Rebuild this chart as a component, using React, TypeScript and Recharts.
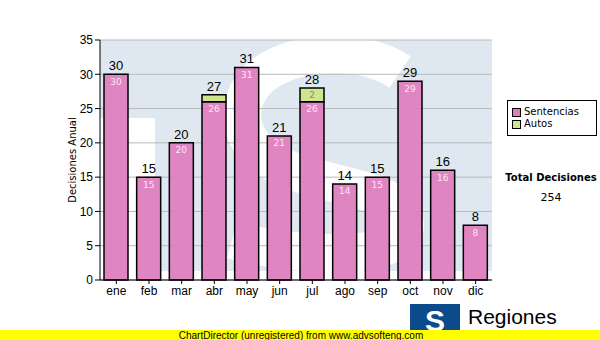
import React from "react"
import {
  BarChart,
  Bar,
  XAxis,
  YAxis,
  CartesianGrid,
  LabelList,
} from "recharts"

const months = ["ene", "feb", "mar", "abr", "may", "jun", "jul", "ago", "sep", "oct", "nov", "dic"]
const sentencias = [30, 15, 20, 26, 31, 21, 26, 14, 15, 29, 16, 8]
const autos = [0, 0, 0, 1, 0, 0, 2, 0, 0, 0, 0, 0]
const yTicks = [0, 5, 10, 15, 20, 25, 30, 35]

const PINK = "#dd7fbf"
const GREEN = "#cfe68f"
const FONT = "'Liberation Sans', Arial, sans-serif"
const SMALL_FONT = "'DejaVu Sans', Verdana, sans-serif"

const data = months.map((m, i) => ({
  month: m,
  sentencias: sentencias[i],
  autos: autos[i],
  total: sentencias[i] + autos[i],
}))

const totalDecisiones = data.reduce((s, d) => s + d.total, 0)

// faded logo behind the plot area
const Watermark = () => (
  <svg width={600} height={340} style={{ position: "absolute", left: 0, top: 0 }}>
    <rect x={100} y={40} width={392} height={240} fill="#dfe8f1" />
    <rect x={100} y={118} width={55} height={153} fill="#fff" />
    <rect x={100} y={271} width={392} height={9} fill="#fff" />
    <path
      d="M 400 72 C 365 48, 300 48, 262 75 C 228 105, 238 152, 290 170 C 345 190, 405 190, 405 225 C 405 262, 300 258, 232 240"
      fill="none"
      stroke="#fff"
      strokeWidth={38}
    />
  </svg>
)

const LegendBox = () => (
  <div
    style={{
      position: "absolute",
      left: 507,
      top: 100,
      border: "1px solid #000",
      background: "#fff",
      width: 90,
      height: 36,
      padding: "5px 4px",
      boxSizing: "border-box",
      fontFamily: SMALL_FONT,
      fontSize: 10,
      lineHeight: "12px",
    }}
  >
    {[
      ["Sentencias", PINK],
      ["Autos", GREEN],
    ].map(([name, color]) => (
      <div key={name} style={{ display: "flex", alignItems: "center" }}>
        <span
          style={{
            display: "inline-block",
            width: 7,
            height: 7,
            background: color,
            border: "1px solid #000",
            marginRight: 3,
          }}
        />
        {name}
      </div>
    ))}
  </div>
)

const AutosLabel = (props: any) => {
  const { x, y, width, height, value } = props
  if (!value || height < 10) return null
  return (
    <text x={x + width / 2} y={y + height / 2 + 3} textAnchor="middle" fill="#8a8a8a" fontSize={9} fontFamily={SMALL_FONT}>
      {value}
    </text>
  )
}

// total above the stack, drawn from the sentencias bar: lift by the autos share
const TotalLabel = (props: any) => {
  const { x, y, width, height, index } = props
  const d = data[index]
  if (!d) return null
  const lift = d.sentencias ? (height * d.autos) / d.sentencias : 0
  return (
    <text x={x + width / 2} y={y - lift - 4} textAnchor="middle" fill="#000" fontSize={13} fontFamily={FONT}>
      {d.total}
    </text>
  )
}

export default function App() {
  return (
    <div style={{ position: "absolute", left: 0, top: 0, width: 600, height: 340, background: "#fff", overflow: "hidden" }}>
      <Watermark />
      <div style={{ position: "absolute", left: 0, top: 0 }}>
        <BarChart
          width={600}
          height={340}
          data={data}
          margin={{ top: 40, right: 108, left: 60, bottom: 40 }}
          barSize={24}
        >
          <CartesianGrid vertical={false} stroke="#b8b8b8" />
          <XAxis
            dataKey="month"
            tickLine={{ stroke: "#000" }}
            axisLine={{ stroke: "#000" }}
            tickSize={4}
            tick={{ fill: "#000", fontSize: 12, fontFamily: FONT }}
            height={20}
          />
          <XAxis xAxisId="top" dataKey="month" orientation="top" tick={false} tickLine={false} height={0} axisLine={{ stroke: "#000" }} />
          <YAxis
            domain={[0, 35]}
            ticks={yTicks}
            interval={0}
            tickLine={{ stroke: "#000" }}
            axisLine={{ stroke: "#000" }}
            tickSize={5}
            width={40}
            tick={{ fill: "#000", fontSize: 12, fontFamily: FONT }}
            label={{
              value: "Decisiones Anual",
              angle: -90,
              position: "insideLeft",
              offset: 12,
              style: { textAnchor: "middle", fontSize: 10, fontFamily: SMALL_FONT, fill: "#000" },
            }}
          />
          <YAxis yAxisId="right" orientation="right" domain={[0, 35]} tick={false} tickLine={false} width={0} axisLine={{ stroke: "#000" }} />
          <Bar dataKey="sentencias" name="Sentencias" stackId="a" fill={PINK} fillOpacity={0.95} stroke="#000" strokeWidth={1.5} isAnimationActive={false}>
            <LabelList dataKey="sentencias" position="insideTop" offset={4} fill="#fbe6f4" fontSize={9} fontFamily={SMALL_FONT} />
            <LabelList dataKey="total" content={TotalLabel} />
          </Bar>
          <Bar dataKey="autos" name="Autos" stackId="a" fill={GREEN} stroke="#000" strokeWidth={1.5} isAnimationActive={false}>
            <LabelList dataKey="autos" content={AutosLabel} />
          </Bar>
        </BarChart>
      </div>
      <LegendBox />
      <div style={{ position: "absolute", left: 501, top: 172, width: 100, textAlign: "center", fontFamily: SMALL_FONT, fontSize: 10, color: "#000" }}>
        <div style={{ fontWeight: "bold" }}>Total Decisiones</div>
        <div style={{ fontSize: 11, marginTop: 8 }}>{totalDecisiones}</div>
      </div>
      <svg width={600} height={340} style={{ position: "absolute", left: 0, top: 0 }}>
        <rect x={410} y={304} width={50} height={28} fill="#0b4a8b" />
        <text x={435} y={331} textAnchor="middle" fill="#fff" fontSize={30} fontWeight="bold" fontFamily={FONT}>S</text>
        <text x={468} y={324} fill="#000" fontSize={21} fontFamily={FONT}>Regiones</text>
        <text x={468} y={335} fill="#000" fontSize={8} fontFamily={FONT}>Tribunal Supremo de Justicia</text>
        <rect x={0} y={330} width={600} height={10} fill="#ffff00" />
        <text x={301} y={339} textAnchor="middle" fill="#000" fontSize={10} fontFamily={FONT}>ChartDirector (unregistered) from www.advsofteng.com</text>
      </svg>
    </div>
  )
}
